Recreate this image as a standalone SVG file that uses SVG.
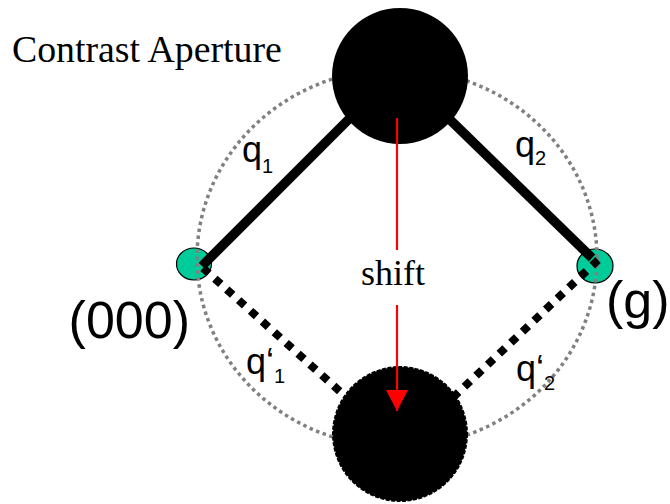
<svg xmlns="http://www.w3.org/2000/svg" width="670" height="504" viewBox="0 0 670 504">
<style>
.spot{fill:#00cc99;stroke:#000;stroke-width:1.2}
.ring{fill:none;stroke:#808080;stroke-width:3.5;stroke-dasharray:3.5 3.5}
.solid{stroke:#000;stroke-width:9.5;fill:none}
.dash{stroke:#000;stroke-width:8;fill:none;stroke-dasharray:8 8}
.beam{fill:#000}
.red{stroke:#ff0000;stroke-width:2.2}
.serif{font-family:"Liberation Serif","Times New Roman",serif;fill:#000}
.sans{font-family:"Liberation Sans",Arial,sans-serif;fill:#000}
</style>
<defs>
<marker id="ah" viewBox="0 0 21 22" refX="21" refY="11" markerWidth="21" markerHeight="22" markerUnits="userSpaceOnUse" orient="auto">
<path d="M0,0 L21,11 L0,22 Z" fill="#ff0000"/>
</marker>
</defs>
<g id="spot000"><ellipse class="spot" cx="194" cy="264" rx="17.5" ry="16"/></g>
<g id="spotg"><ellipse class="spot" cx="595" cy="266" rx="18" ry="17"/></g>
<g id="aperture"><ellipse class="ring" cx="397" cy="258" rx="200" ry="189"/></g>
<g id="connectors">
<line class="solid" x1="202" y1="266" x2="360" y2="108"/>
<line class="solid" x1="592" y1="258" x2="440" y2="110"/>
<line class="dash" x1="203" y1="268" x2="355" y2="405"/>
<line class="dash" x1="598" y1="260" x2="445" y2="405"/>
</g>
<g id="beamTop"><circle class="beam" cx="400" cy="76" r="68"/></g>
<g id="beamBottom"><circle class="beam" cx="400" cy="434" r="67" stroke="#000" stroke-width="2" stroke-dasharray="4 1.5"/></g>
<g id="shiftArrow">
<line class="red" x1="397" y1="118" x2="397" y2="250"/>
<line class="red" x1="397" y1="305" x2="397" y2="411" marker-end="url(#ah)"/>
<text class="serif" x="393" y="285" font-size="36" text-anchor="middle">shift</text>
</g>
<text class="serif" x="12" y="62" font-size="37.8">Contrast Aperture</text>
<text class="sans" x="190" y="338" font-size="52" text-anchor="end">(000)</text>
<text class="sans" x="606" y="318" font-size="52">(g)</text>
<text class="sans" x="242" y="162" font-size="36">q<tspan font-size="20" dy="11">1</tspan></text>
<text class="sans" x="515" y="157" font-size="36">q<tspan font-size="20" dy="8">2</tspan></text>
<text class="sans" x="246" y="374" font-size="36">q‘<tspan font-size="20" dy="9">1</tspan></text>
<text class="sans" x="516" y="381" font-size="36">q‘<tspan font-size="20" dy="9">2</tspan></text>
</svg>
